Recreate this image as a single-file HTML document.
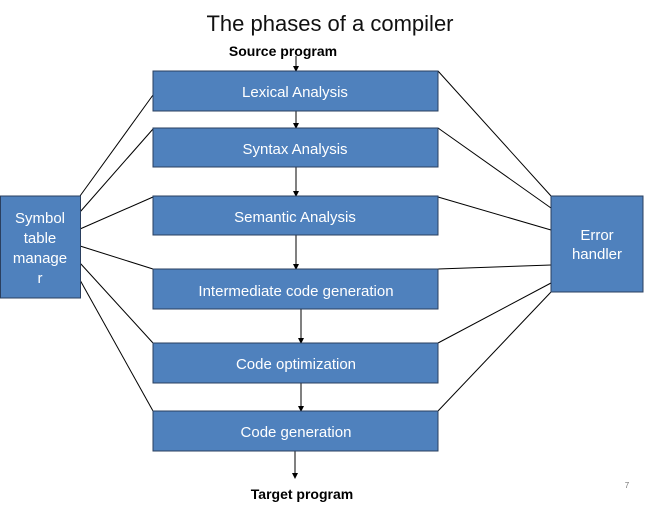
<!DOCTYPE html>
<html><head><style>
body{margin:0;background:#fff;width:655px;height:504px;overflow:hidden}
</style></head><body>
<svg width="655" height="504" xmlns="http://www.w3.org/2000/svg" font-family="Liberation Sans, sans-serif">
<defs><marker id="a" markerWidth="6" markerHeight="6" refX="5" refY="3" orient="auto"><path d="M0,0L6,3L0,6z" fill="#000"/></marker></defs>
<text x="330" y="31" font-size="22" text-anchor="middle" fill="#111">The phases of a compiler</text>
<text x="283" y="56" font-size="14" font-weight="bold" text-anchor="middle">Source program</text>
<g stroke="#000" stroke-width="1">
<line x1="296" y1="56" x2="296" y2="71" marker-end="url(#a)"/>
<line x1="296" y1="111" x2="296" y2="128" marker-end="url(#a)"/>
<line x1="296" y1="167" x2="296" y2="196" marker-end="url(#a)"/>
<line x1="296" y1="235" x2="296" y2="269" marker-end="url(#a)"/>
<line x1="301" y1="309" x2="301" y2="343" marker-end="url(#a)"/>
<line x1="301" y1="383" x2="301" y2="411" marker-end="url(#a)"/>
<line x1="295" y1="451" x2="295" y2="478" marker-end="url(#a)"/>
<line x1="80" y1="196" x2="153" y2="95"/>
<line x1="80" y1="212" x2="153" y2="129"/>
<line x1="80" y1="229" x2="153" y2="197"/>
<line x1="80" y1="246" x2="153" y2="269"/>
<line x1="80" y1="263" x2="153" y2="343"/>
<line x1="80" y1="280" x2="153" y2="411"/>
<line x1="438" y1="71" x2="551" y2="196"/>
<line x1="438" y1="128" x2="551" y2="208"/>
<line x1="438" y1="197" x2="551" y2="230"/>
<line x1="438" y1="269" x2="551" y2="265"/>
<line x1="438" y1="343" x2="551" y2="283"/>
<line x1="438" y1="411" x2="551" y2="292"/>
</g>
<g fill="#4f81bd" stroke="#2a3f5f" stroke-width="1">
<rect x="153" y="71" width="285" height="40"/>
<rect x="153" y="128" width="285" height="39"/>
<rect x="153" y="196" width="285" height="39"/>
<rect x="153" y="269" width="285" height="40"/>
<rect x="153" y="343" width="285" height="40"/>
<rect x="153" y="411" width="285" height="40"/>
<rect x="0.5" y="196" width="80" height="102"/>
<rect x="551" y="196" width="92" height="96"/>
</g>
<g fill="#fff" font-size="15" text-anchor="middle">
<text x="295" y="97">Lexical Analysis</text>
<text x="295" y="154">Syntax Analysis</text>
<text x="295" y="222">Semantic Analysis</text>
<text x="296" y="296">Intermediate code generation</text>
<text x="296" y="369">Code optimization</text>
<text x="296" y="437">Code generation</text>
<text x="40" y="223">Symbol</text>
<text x="40" y="243">table</text>
<text x="40" y="263">manage</text>
<text x="40" y="283">r</text>
<text x="597" y="240">Error</text>
<text x="597" y="259">handler</text>
</g>
<text x="302" y="499" font-size="14" font-weight="bold" text-anchor="middle">Target program</text>
<text x="627" y="488" font-size="8" fill="#777" text-anchor="middle">7</text>
</svg>
</body></html>
